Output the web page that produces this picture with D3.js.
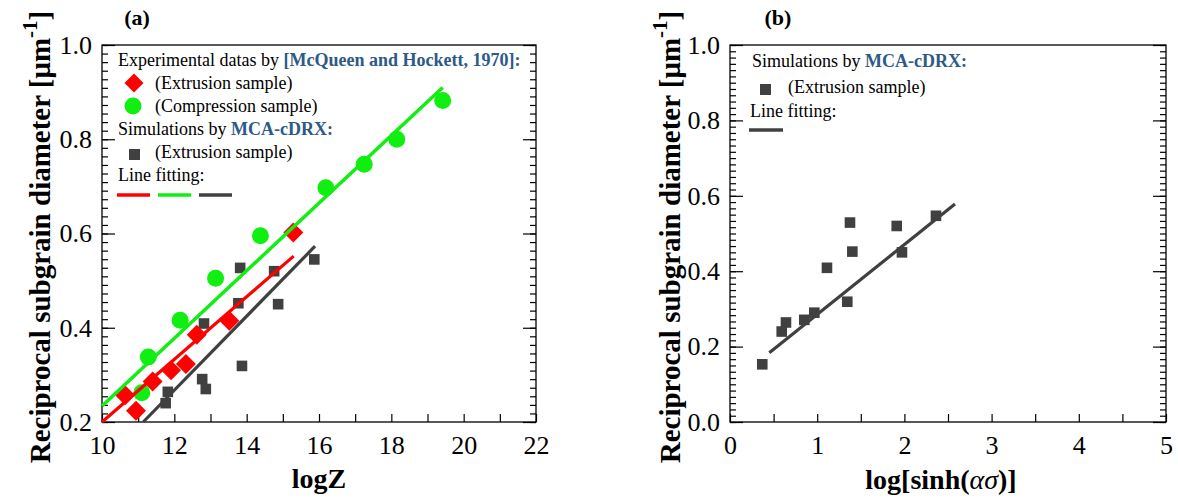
<!DOCTYPE html>
<html><head><meta charset="utf-8">
<script src="https://cdn.jsdelivr.net/npm/d3@7"></script>
<style>
body{margin:0;background:#fff;}
svg{display:block;font-family:"Liberation Serif","Times New Roman",serif;}
svg text{font-family:"Liberation Serif","Times New Roman",serif;}
</style></head>
<body>
<svg id="c" width="1178" height="501"></svg>
<script>
// ---------- Panel (a) data ----------
const extrusionExpX = [10.64, 10.94, 11.40, 11.91, 12.32, 12.62, 13.52, 15.29];
const extrusionExpY = [0.257, 0.224, 0.286, 0.310, 0.323, 0.385, 0.415, 0.602];
const compressionX = [11.10, 11.28, 12.16, 13.14, 14.38, 16.19, 17.25, 18.15, 19.42];
const compressionY = [0.262, 0.338, 0.416, 0.505, 0.595, 0.697, 0.747, 0.800, 0.882];
const simLogZ = [13.82, 14.76, 13.77, 14.87, 12.82, 12.77, 12.87, 13.87, 11.82, 11.76, 15.87];
const simYa   = [0.527, 0.520, 0.452, 0.450, 0.409, 0.291, 0.270, 0.319, 0.264, 0.240, 0.545];
const fitRedX = [10.0, 15.3],  fitRedY = [0.200, 0.552];
const fitGreenX = [10.0, 19.42], fitGreenY = [0.234, 0.910];
const fitDarkX = [11.14, 15.89], fitDarkY = [0.200, 0.573];
const xTicksA = [10, 12, 14, 16, 18, 20, 22];
const yTicksA = [0.2, 0.4, 0.6, 0.8, 1.0];

// ---------- Panel (b) data ----------
const simSinh = [0.370, 0.593, 0.642, 0.852, 0.967, 1.112, 1.345, 1.376, 1.403, 1.912, 1.972, 2.362];
const simYb   = [0.153, 0.240, 0.264, 0.271, 0.290, 0.409, 0.319, 0.529, 0.452, 0.520, 0.450, 0.547];
const fitBX = [0.451, 2.580], fitBY = [0.184, 0.578];
const xTicksB = [0, 1, 2, 3, 4, 5];
const yTicksB = [0.0, 0.2, 0.4, 0.6, 0.8, 1.0];

const RED = "#ff0000", GREEN = "#11ee11", DARK = "#404040", BLUE = "#2d5a86";
const SERIF = "'Liberation Serif','Times New Roman',serif";
const svg = d3.select("#c");

function frame(x, y, xMinor, yMinorStep, xLabels, yLabels, yFmt) {
  const g = svg.append("g");
  const [x0, x1] = x.range(), [y0, y1] = y.range();
  g.append("rect").attr("x", x0).attr("y", y1).attr("width", x1 - x0).attr("height", y0 - y1)
    .attr("fill", "none").attr("stroke", "#000").attr("stroke-width", 1.3);
  const yd = y.domain();
  const yMinor = d3.range(0, Math.round((yd[1] - yd[0]) / yMinorStep) + 1).map(i => yd[0] + i * yMinorStep);
  const axL = d3.axisLeft(y).tickValues(yMinor).tickSize(-6).tickFormat("");
  const axR = d3.axisRight(y).tickValues(yMinor).tickSize(-6).tickFormat("");
  g.append("g").attr("transform", `translate(${x0},0)`).call(axL).call(s => s.select(".domain").remove());
  g.append("g").attr("transform", `translate(${x1},0)`).call(axR).call(s => s.select(".domain").remove());
  const axLM = d3.axisLeft(y).tickValues(yLabels).tickSize(-13).tickPadding(10).tickFormat(yFmt);
  const axRM = d3.axisRight(y).tickValues(yLabels).tickSize(-13).tickFormat("");
  const gl = g.append("g").attr("transform", `translate(${x0},0)`).call(axLM);
  g.append("g").attr("transform", `translate(${x1},0)`).call(axRM).call(s => s.select(".domain").remove());
  gl.select(".domain").remove();
  const axB = d3.axisBottom(x).tickValues(xMinor).tickSize(-8).tickPadding(14)
    .tickFormat(d => xLabels.includes(+d.toFixed(3)) ? d3.format("d")(d) : "");
  const gb = g.append("g").attr("transform", `translate(0,${y0})`).call(axB);
  gb.select(".domain").remove();
  g.selectAll("g").attr("font-family", SERIF).attr("font-size", 26);
  g.selectAll("text").style("font-family", SERIF).style("font-size", "26px").attr("fill", "#000");
  g.selectAll(".tick line").attr("stroke", "#000").attr("stroke-width", 1.2);
}

// ================= Panel (a) =================
const xa = d3.scaleLinear([10, 22], [102, 536]);
const ya = d3.scaleLinear([0.2, 1.0], [422, 45]);
frame(xa, ya, d3.range(10, 23, 1), 0.2 / 11, xTicksA, yTicksA, d3.format(".1f"));

const ga = svg.append("g");
ga.selectAll("circle.comp").data(compressionX).join("circle")
  .attr("cx", d => xa(d)).attr("cy", (d, i) => ya(compressionY[i])).attr("r", 8.5).attr("fill", GREEN);
ga.selectAll("rect.sim").data(simLogZ).join("rect")
  .attr("x", d => xa(d) - 5.3).attr("y", (d, i) => ya(simYa[i]) - 5.3)
  .attr("width", 10.6).attr("height", 10.6).attr("fill", DARK);
const diamond = d3.symbol().type(d3.symbolSquare).size(200);
ga.selectAll("path.ext").data(extrusionExpX).join("path")
  .attr("d", diamond)
  .attr("transform", (d, i) => `translate(${xa(d)},${ya(extrusionExpY[i])}) rotate(45)`)
  .attr("fill", RED);
const lineA = d3.line().x(d => xa(d[0])).y(d => ya(d[1]));
ga.append("path").attr("d", lineA(fitGreenX.map((v, i) => [v, fitGreenY[i]])))
  .attr("stroke", GREEN).attr("stroke-width", 3.5).attr("fill", "none");
ga.append("path").attr("d", lineA(fitRedX.map((v, i) => [v, fitRedY[i]])))
  .attr("stroke", RED).attr("stroke-width", 3.2).attr("fill", "none");
ga.append("path").attr("d", lineA(fitDarkX.map((v, i) => [v, fitDarkY[i]])))
  .attr("stroke", DARK).attr("stroke-width", 3.2).attr("fill", "none");

// legend (a)
const la = svg.append("g").attr("font-size", 18).attr("fill", "#000");
let t = la.append("text").attr("x", 118).attr("y", 66);
t.append("tspan").text("Experimental datas by ");
t.append("tspan").attr("fill", BLUE).attr("font-weight", "bold").text("[McQueen and Hockett, 1970]:");
la.append("path").attr("d", d3.symbol().type(d3.symbolSquare).size(180)())
  .attr("transform", "translate(134,83) rotate(45)").attr("fill", RED);
la.append("text").attr("x", 155).attr("y", 89).text("(Extrusion sample)");
la.append("circle").attr("cx", 133).attr("cy", 106).attr("r", 8.5).attr("fill", GREEN);
la.append("text").attr("x", 155).attr("y", 112).text("(Compression sample)");
t = la.append("text").attr("x", 118).attr("y", 135);
t.append("tspan").text("Simulations by ");
t.append("tspan").attr("fill", BLUE).attr("font-weight", "bold").text("MCA-cDRX:");
la.append("rect").attr("x", 129).attr("y", 149).attr("width", 11).attr("height", 11).attr("fill", DARK);
la.append("text").attr("x", 155).attr("y", 158).text("(Extrusion sample)");
la.append("text").attr("x", 118).attr("y", 181).text("Line fitting:");
[[RED, 117], [GREEN, 158], [DARK, 199]].forEach(([c, x]) =>
  la.append("line").attr("x1", x).attr("x2", x + 33).attr("y1", 195).attr("y2", 195)
    .attr("stroke", c).attr("stroke-width", 3.5));

svg.append("text").attr("x", 137).attr("y", 25).attr("text-anchor", "middle")
  .attr("font-size", 22).attr("font-weight", "bold").text("(a)");
svg.append("text").attr("x", 319).attr("y", 488).attr("text-anchor", "middle")
  .attr("font-size", 28).attr("font-weight", "bold").text("logZ");

function yTitle(cx) {
  const tt = svg.append("text").attr("transform", `translate(${cx},237) rotate(-90)`)
    .attr("text-anchor", "middle").attr("font-size", 29).attr("font-weight", "bold");
  tt.append("tspan").text("Reciprocal  subgrain  diameter [\u03BCm");
  tt.append("tspan").attr("font-size", 21).attr("dy", -13).text("-1");
  tt.append("tspan").attr("dy", 13).text("]");
}
yTitle(50);

// ================= Panel (b) =================
const xb = d3.scaleLinear([0, 5], [730, 1166]);
const yb = d3.scaleLinear([0, 1.0], [422, 45]);
frame(xb, yb, d3.range(0, 5.01, 0.5), 0.2 / 12, xTicksB, yTicksB, d3.format(".1f"));

const gbp = svg.append("g");
gbp.selectAll("rect.simb").data(simSinh).join("rect")
  .attr("x", d => xb(d) - 5.3).attr("y", (d, i) => yb(simYb[i]) - 5.3)
  .attr("width", 10.6).attr("height", 10.6).attr("fill", DARK);
const lineB = d3.line().x(d => xb(d[0])).y(d => yb(d[1]));
gbp.append("path").attr("d", lineB(fitBX.map((v, i) => [v, fitBY[i]])))
  .attr("stroke", DARK).attr("stroke-width", 3.2).attr("fill", "none");

const lb = svg.append("g").attr("font-size", 18).attr("fill", "#000");
t = lb.append("text").attr("x", 752).attr("y", 67);
t.append("tspan").text("Simulations by ");
t.append("tspan").attr("fill", BLUE).attr("font-weight", "bold").text("MCA-cDRX:");
lb.append("rect").attr("x", 760).attr("y", 84).attr("width", 11).attr("height", 11).attr("fill", DARK);
lb.append("text").attr("x", 788).attr("y", 93).text("(Extrusion sample)");
lb.append("text").attr("x", 750).attr("y", 117).text("Line fitting:");
lb.append("line").attr("x1", 749).attr("x2", 783).attr("y1", 130).attr("y2", 130)
  .attr("stroke", DARK).attr("stroke-width", 3.5);

svg.append("text").attr("x", 778).attr("y", 25).attr("text-anchor", "middle")
  .attr("font-size", 22).attr("font-weight", "bold").text("(b)");
const xtb = svg.append("text").attr("x", 941).attr("y", 489).attr("text-anchor", "middle")
  .attr("font-size", 28).attr("font-weight", "bold");
xtb.append("tspan").text("log[sinh(");
xtb.append("tspan").attr("font-style", "italic").attr("font-weight", "normal").text("\u03B1\u03C3");
xtb.append("tspan").text(")]");
yTitle(680);
</script>
</body></html>
